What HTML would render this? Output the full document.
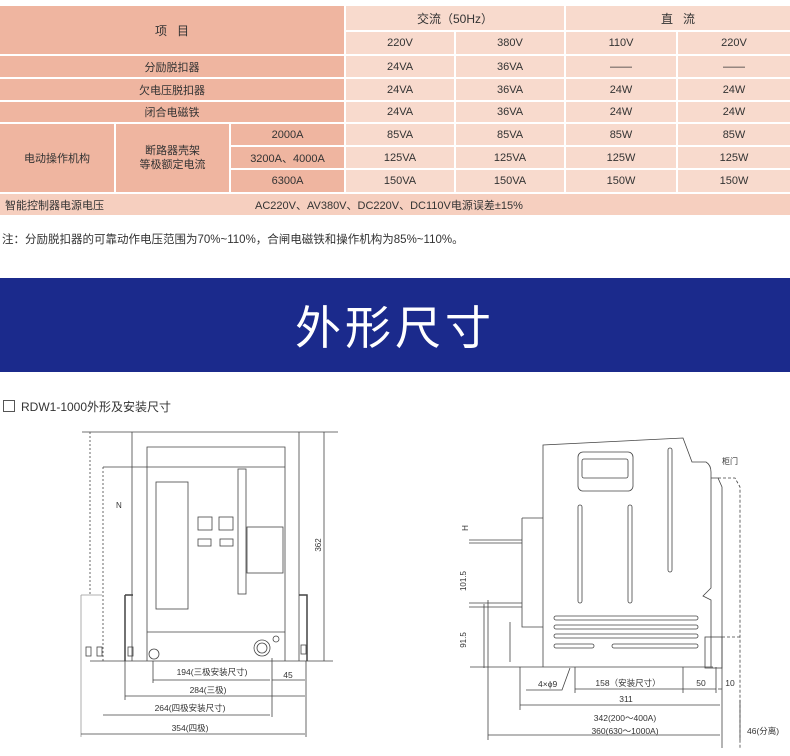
<!DOCTYPE html>
<html><head><meta charset="utf-8"><style>
body{margin:0;width:790px;height:756px;background:#fff;position:relative;overflow:hidden;font-family:"Liberation Sans","Noto Sans CJK SC",sans-serif;}
.c{position:absolute;display:flex;align-items:center;justify-content:center;font-size:11px;color:#333;box-sizing:border-box;}
.d{background:#efb5a0}.l{background:#f8dacd}
</style></head><body>
<div class="c d" style="left:0;top:6px;width:344px;height:48px;font-size:12px">项&nbsp;&nbsp;&nbsp;目</div>
<div class="c l" style="left:346px;top:6px;width:218px;height:24px;font-size:12px">交流（50Hz）</div>
<div class="c l" style="left:566px;top:6px;width:224px;height:24px;font-size:12px">直&nbsp;&nbsp;&nbsp;流</div>
<div class="c l" style="left:346px;top:32px;width:108px;height:22px">220V</div>
<div class="c l" style="left:456px;top:32px;width:108px;height:22px">380V</div>
<div class="c l" style="left:566px;top:32px;width:110px;height:22px">110V</div>
<div class="c l" style="left:678px;top:32px;width:112px;height:22px">220V</div>

<div class="c d" style="left:0;top:56px;width:344px;height:21px">分励脱扣器</div>
<div class="c l" style="left:346px;top:56px;width:108px;height:21px">24VA</div>
<div class="c l" style="left:456px;top:56px;width:108px;height:21px">36VA</div>
<div class="c l" style="left:566px;top:56px;width:110px;height:21px">——</div>
<div class="c l" style="left:678px;top:56px;width:112px;height:21px">——</div>

<div class="c d" style="left:0;top:79px;width:344px;height:21px">欠电压脱扣器</div>
<div class="c l" style="left:346px;top:79px;width:108px;height:21px">24VA</div>
<div class="c l" style="left:456px;top:79px;width:108px;height:21px">36VA</div>
<div class="c l" style="left:566px;top:79px;width:110px;height:21px">24W</div>
<div class="c l" style="left:678px;top:79px;width:112px;height:21px">24W</div>

<div class="c d" style="left:0;top:102px;width:344px;height:20px">闭合电磁铁</div>
<div class="c l" style="left:346px;top:102px;width:108px;height:20px">24VA</div>
<div class="c l" style="left:456px;top:102px;width:108px;height:20px">36VA</div>
<div class="c l" style="left:566px;top:102px;width:110px;height:20px">24W</div>
<div class="c l" style="left:678px;top:102px;width:112px;height:20px">24W</div>

<div class="c d" style="left:0;top:124px;width:114px;height:68px">电动操作机构</div>
<div class="c d" style="left:116px;top:124px;width:113px;height:68px;line-height:14px;text-align:center">断路器壳架<br>等极额定电流</div>
<div class="c d" style="left:231px;top:124px;width:113px;height:21px">2000A</div>
<div class="c d" style="left:231px;top:147px;width:113px;height:21px">3200A、4000A</div>
<div class="c d" style="left:231px;top:170px;width:113px;height:22px">6300A</div>
<div class="c l" style="left:346px;top:124px;width:108px;height:21px">85VA</div>
<div class="c l" style="left:456px;top:124px;width:108px;height:21px">85VA</div>
<div class="c l" style="left:566px;top:124px;width:110px;height:21px">85W</div>
<div class="c l" style="left:678px;top:124px;width:112px;height:21px">85W</div>
<div class="c l" style="left:346px;top:147px;width:108px;height:21px">125VA</div>
<div class="c l" style="left:456px;top:147px;width:108px;height:21px">125VA</div>
<div class="c l" style="left:566px;top:147px;width:110px;height:21px">125W</div>
<div class="c l" style="left:678px;top:147px;width:112px;height:21px">125W</div>
<div class="c l" style="left:346px;top:170px;width:108px;height:22px">150VA</div>
<div class="c l" style="left:456px;top:170px;width:108px;height:22px">150VA</div>
<div class="c l" style="left:566px;top:170px;width:110px;height:22px">150W</div>
<div class="c l" style="left:678px;top:170px;width:112px;height:22px">150W</div>

<div class="c" style="left:0;top:194px;width:790px;height:21px;background:#f6cfbf"></div>
<div class="c" style="left:5px;top:194px;height:21px;justify-content:flex-start">智能控制器电源电压</div>
<div class="c" style="left:255px;top:194px;height:21px;justify-content:flex-start">AC220V、AV380V、DC220V、DC110V电源误差±15%</div>

<div class="c" style="left:2px;top:229px;height:20px;font-size:11.5px;justify-content:flex-start">注：分励脱扣器的可靠动作电压范围为70%~110%，合闸电磁铁和操作机构为85%~110%。</div>

<div class="c" style="left:0;top:278px;width:790px;height:94px;background:#1b2a8c;color:#fff;font-size:46px;letter-spacing:4px">外形尺寸</div>

<div class="c" style="left:3px;top:397px;height:18px;font-size:12px;justify-content:flex-start"><span style="display:inline-block;width:10px;height:10px;border:1px solid #555;margin-right:6px"></span>RDW1-1000外形及安装尺寸</div>

<svg style="position:absolute;left:0;top:0" width="790" height="756" font-family="Liberation Sans,Noto Sans CJK SC,sans-serif" font-size="8.5" fill="none" stroke="#444" stroke-width="0.8">
<!-- left drawing -->
<path d="M90 432V595M103 467V661" stroke-dasharray="2,2"/>
<path d="M132 432H299V661M132 432V661M82 432H132M299 432H338"/>
<path d="M147 661V447H285V661M103 467H285M147 632H285"/>
<rect x="156" y="482" width="32" height="127"/>
<rect x="198" y="517" width="14" height="13"/><rect x="219" y="517" width="14" height="13"/>
<rect x="198" y="539" width="13" height="7"/><rect x="220" y="539" width="13" height="7"/>
<rect x="238" y="469" width="8" height="125"/>
<rect x="247" y="527" width="36" height="46"/>
<circle cx="154" cy="654" r="5"/><circle cx="262" cy="648" r="8"/><circle cx="262" cy="648" r="5"/><circle cx="276" cy="639" r="3"/>
<path d="M125 595V661M125 595H133M299 595H307V661" stroke-width="1.5"/>
<rect x="128" y="647" width="5" height="9"/><rect x="301" y="645" width="5" height="9"/>
<rect x="86" y="647" width="5" height="9"/><rect x="97" y="647" width="5" height="9"/>
<path d="M81 595V737M81 595H102" stroke="#999"/>
<path d="M90 661H333M324 432V661"/>
<path d="M153 661V683M153 680H270M272 658V717M272 680H305M306 661V737M125 661V700M125 696H305M103 715H270M81 734H305"/>
<!-- right drawing -->
<path d="M543 667V445L683 438L692 462H706Q711 465 711 472V588L703 596L711 600V667"/>
<path d="M543 667H713M522 518H543M522 518V627H543M522 540H469M522 543H469M522 603H469M522 607H469"/>
<path d="M510 622V662M484 604V668M470 667H543"/>
<rect x="578" y="452" width="55" height="39" rx="5"/><rect x="582" y="459" width="46" height="19" rx="2"/>
<rect x="578" y="505" width="4" height="98" rx="2"/><rect x="628" y="505" width="4" height="98" rx="2"/><rect x="668" y="448" width="4" height="124" rx="2"/>
<rect x="554" y="616" width="144" height="4" rx="2"/><rect x="554" y="625" width="144" height="4" rx="2"/><rect x="554" y="634" width="144" height="4" rx="2"/>
<rect x="554" y="644" width="40" height="4" rx="2"/><rect x="612" y="644" width="86" height="4" rx="2"/>
<rect x="705" y="637" width="17" height="31"/>
<path d="M711 478H718L722 487V748"/>
<path d="M718 478H735L740 487V748M722 637H740" stroke-dasharray="3,2"/>
<path d="M575 667V693M683 667V693M716 667V693M575 689H683M683 689H716M718 689H722M520 705H720M520 667V710M488 600V740M488 735H720M740 700V740"/>
<path d="M570 668L562 690H526"/>
</svg>
<svg style="position:absolute;left:0;top:0" width="790" height="756" font-family="Liberation Sans,Noto Sans CJK SC,sans-serif" font-size="8.5" fill="#333">
<text x="116" y="508" font-size="8">N</text>
<text transform="translate(321,545) rotate(-90)" text-anchor="middle" font-size="8">362</text>
<text x="212" y="675" text-anchor="middle">194(三极安装尺寸)</text>
<text x="288" y="678" text-anchor="middle">45</text>
<text x="208" y="693" text-anchor="middle">284(三极)</text>
<text x="190" y="711" text-anchor="middle">264(四极安装尺寸)</text>
<text x="190" y="731" text-anchor="middle">354(四极)</text>
<text transform="translate(468,528) rotate(-90)" text-anchor="middle" font-size="8">H</text>
<text transform="translate(466,581) rotate(-90)" text-anchor="middle" font-size="8">101.5</text>
<text transform="translate(466,640) rotate(-90)" text-anchor="middle" font-size="8">91.5</text>
<text x="538" y="687">4×ϕ9</text>
<text x="628" y="686" text-anchor="middle">158（安装尺寸）</text>
<text x="701" y="686" text-anchor="middle">50</text>
<text x="730" y="686" text-anchor="middle">10</text>
<text x="626" y="702" text-anchor="middle">311</text>
<text x="625" y="721" text-anchor="middle">342(200～400A)</text>
<text x="625" y="734" text-anchor="middle">360(630～1000A)</text>
<text x="747" y="734">46(分离)</text>
<text x="722" y="464" font-size="8">柜门</text>
</svg>
</body></html>
